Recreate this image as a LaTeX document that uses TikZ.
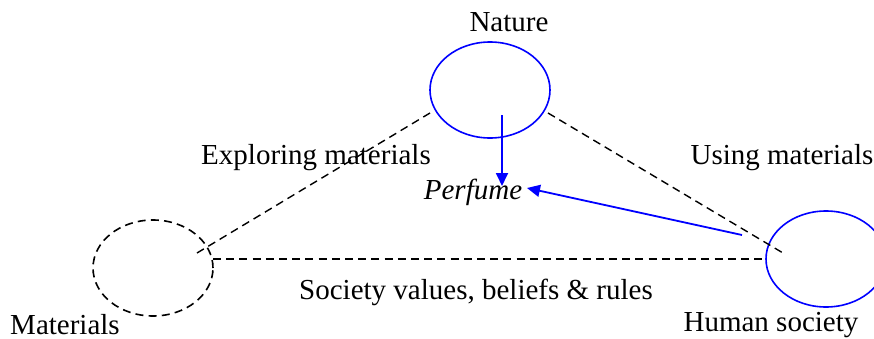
\documentclass[tikz,border=0pt]{standalone}
\usepackage{fontspec}
\setmainfont{Liberation Serif}
\usetikzlibrary{shapes.geometric, arrows.meta}

\tikzset{
  sphere/.style={draw, ellipse, line width=0.8pt, minimum width=60pt, minimum height=48pt, inner sep=0pt},
  link/.style={dashed, dash pattern=on 4pt off 2.6pt, line width=0.7pt},
  flow/.style={blue, line width=0.9pt, -{Triangle[length=6.5pt, width=6pt]}},
  lbl/.style={inner sep=0pt, font=\fontsize{14.5}{17}\selectfont}
}

\begin{document}
\begin{tikzpicture}[x=0.5pt, y=-0.5pt]
  \useasboundingbox (0,0) rectangle (874,338);
  %% the three spheres
  \node[sphere, blue] (nature) at (490,90) {};
  \node[sphere, dashed, dash pattern=on 4pt off 2.6pt] (materials) at (153,268) {};
  \node[sphere, blue] (society) at (826,259) {};
  \node[lbl] (naturelbl) at (509,22) {Nature};
  \node[lbl] (materialslbl) at (65,325) {Materials};
  \node[lbl] (societylbl) at (771,325) {Human society};
  %% dashed links between them
  \coordinate (m1) at (197,253);
  \coordinate (n1) at (430,113);
  \coordinate (n2) at (548,113);
  \coordinate (s1) at (783,253);
  \coordinate (m2) at (213,259);
  \draw[link] (m1) -- (n1);
  \draw[link] (n2) -- (s1);
  \draw[link] (m2) -- (society.west);
  \node[lbl] (explore) at (316,158) {Exploring materials};
  \node[lbl] (use) at (782,158) {Using materials};
  \node[lbl] (values) at (476,292) {Society values, beliefs \& rules};
  %% perfume and the arrows into it
  \node[lbl, font=\fontsize{14.5}{17}\selectfont\itshape] (perfume) at (473,192) {Perfume};
  \coordinate (n3) at (502,115);
  \coordinate (p1) at (502,186);
  \coordinate (s2) at (742,235);
  \coordinate (p2) at (527,188);
  \draw[flow] (n3) -- (p1);
  \draw[flow] (s2) -- (p2);
\end{tikzpicture}
\end{document}
